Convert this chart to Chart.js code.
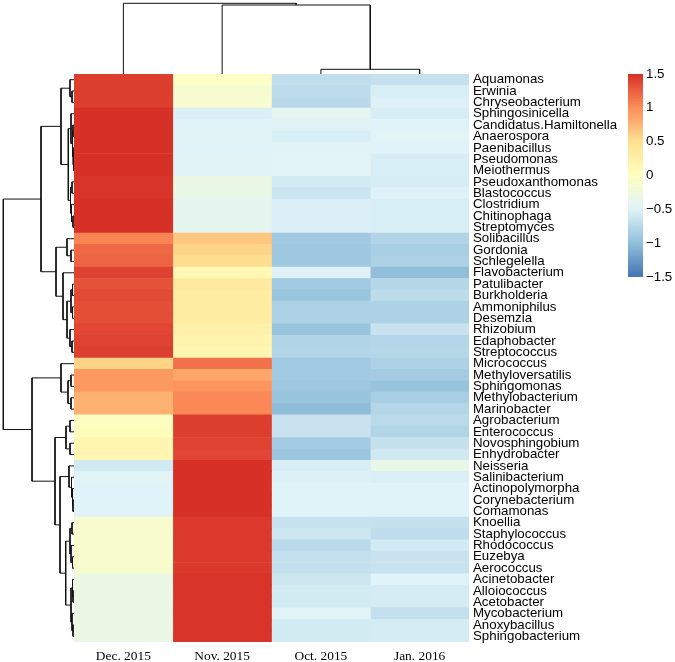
<!DOCTYPE html>
<html>
<head>
<meta charset="utf-8">
<script src="https://cdn.jsdelivr.net/npm/chart.js@4.4.1/dist/chart.umd.min.js"></script>
<style>
  html, body { margin: 0; padding: 0; background: #fff; }
  #wrap { position: relative; width: 675px; height: 662px; overflow: hidden; }
  canvas { position: absolute; display: block; }
</style>
</head>
<body>
<div id="wrap">
  <canvas id="heat" width="601" height="588" style="left:74px;top:74px"></canvas>
  <canvas id="topTree" width="395" height="74" style="left:74px;top:0px"></canvas>
  <canvas id="leftTree" width="74" height="568" style="left:0px;top:74px"></canvas>
  <canvas id="key" width="55" height="223" style="left:620px;top:64px"></canvas>
</div>
<script>
// columns and rows of the heatmap (row-scaled z values)
const samples = ["Dec. 2015", "Nov. 2015", "Oct. 2015", "Jan. 2016"];

const genera = [
  "Aquamonas", "Erwinia", "Chryseobacterium", "Sphingosinicella", "Candidatus.Hamiltonella",
  "Anaerospora", "Paenibacillus", "Pseudomonas", "Meiothermus", "Pseudoxanthomonas",
  "Blastococcus", "Clostridium", "Chitinophaga", "Streptomyces", "Solibacillus",
  "Gordonia", "Schlegelella", "Flavobacterium", "Patulibacter", "Burkholderia",
  "Ammoniphilus", "Desemzia", "Rhizobium", "Edaphobacter", "Streptococcus",
  "Micrococcus", "Methyloversatilis", "Sphingomonas", "Methylobacterium", "Marinobacter",
  "Agrobacterium", "Enterococcus", "Novosphingobium", "Enhydrobacter", "Neisseria",
  "Salinibacterium", "Actinopolymorpha", "Corynebacterium", "Comamonas", "Knoellia",
  "Staphylococcus", "Rhodococcus", "Euzebya", "Aerococcus", "Acinetobacter",
  "Alloiococcus", "Acetobacter", "Mycobacterium", "Anoxybacillus", "Sphingobacterium"
];

const dec2015 = [
  1.42, 1.42, 1.42, 1.50, 1.50, 1.50, 1.50, 1.50, 1.50, 1.48,
  1.48, 1.50, 1.50, 1.50, 1.05, 1.20, 1.22, 1.40, 1.32, 1.36,
  1.34, 1.34, 1.38, 1.40, 1.42, 0.57, 0.93, 0.93, 0.78, 0.78,
  -0.03, 0.03, 0.15, 0.15, -0.60, -0.47, -0.50, -0.50, -0.50, -0.12,
  -0.12, -0.12, -0.12, -0.12, -0.33, -0.33, -0.33, -0.33, -0.33, -0.33
];
const nov2015 = [
  -0.05, -0.15, -0.15, -0.53, -0.50, -0.48, -0.50, -0.48, -0.48, -0.33,
  -0.35, -0.42, -0.42, -0.42, 0.65, 0.57, 0.52, 0.12, 0.35, 0.30,
  0.30, 0.30, 0.22, 0.18, 0.14, 1.15, 0.85, 0.95, 1.02, 1.02,
  1.42, 1.42, 1.40, 1.38, 1.50, 1.50, 1.50, 1.50, 1.50, 1.45,
  1.45, 1.45, 1.45, 1.45, 1.48, 1.48, 1.48, 1.48, 1.48, 1.48
];
const oct2015 = [
  -0.70, -0.72, -0.75, -0.42, -0.48, -0.55, -0.48, -0.47, -0.47, -0.58,
  -0.63, -0.53, -0.53, -0.53, -0.90, -0.92, -0.92, -0.52, -0.90, -0.94,
  -0.82, -0.82, -0.95, -0.80, -0.79, -0.90, -0.90, -0.92, -0.95, -1.02,
  -0.65, -0.65, -0.88, -0.93, -0.55, -0.52, -0.50, -0.50, -0.50, -0.66,
  -0.62, -0.74, -0.68, -0.68, -0.62, -0.58, -0.58, -0.47, -0.58, -0.58
];
const jan2016 = [
  -0.67, -0.55, -0.52, -0.55, -0.50, -0.47, -0.50, -0.55, -0.55, -0.56,
  -0.51, -0.55, -0.55, -0.55, -0.80, -0.85, -0.82, -1.00, -0.77, -0.72,
  -0.82, -0.82, -0.65, -0.78, -0.77, -0.82, -0.88, -0.96, -0.85, -0.78,
  -0.74, -0.80, -0.67, -0.60, -0.35, -0.54, -0.50, -0.50, -0.50, -0.67,
  -0.71, -0.59, -0.65, -0.65, -0.50, -0.57, -0.57, -0.68, -0.57, -0.57
];

// dendrograms: [height, left, right], leaves are row / column indices
const colTree = [70.7, 0, [69.0, 1, [4.7, 2, 3]]];
const rowTree = [70.7,
  [33,
    [13,
      [4, 0, [2, 1, 2]],
      [5.7,
        [3, 3, [1.5, [1, 4, 5], [1, 6, [0.5, 7, 8]]]],
        [3.5, [2, 9, 10], [2.5, 11, [1, 12, 13]]]]],
    [18,
      [7, 14, [3, 15, 16]],
      [11, 17, [7, [3, [1.5, 18, 19], [1.5, 20, 21]], [4, 22, [2, 23, 24]]]]]],
  [42,
    [13, 25, [6, [3, 26, 27], [3, 28, 29]]],
    [19,
      [8, [4, 30, 31], [4, 32, 33]],
      [14,
        [5, 34, [2.5, 35, [1.5, 36, [1, 37, 38]]]],
        [8.3,
          [4, [2, 39, 40], [3, 41, [1.5, 42, 43]]],
          [3, [1.5, 44, [1, 45, 46]], [2, 47, [1, 48, 49]]]]]]]
];

// colour key
const keyTicks = [-1.5, -1, -0.5, 0, 0.5, 1, 1.5];
const palette = ["#4575B4", "#91BFDB", "#E0F3F8", "#FFFFBF", "#FEE090", "#FC8D59", "#D73027"];

function hexRgb(h) {
  return [1, 3, 5].map(i => parseInt(h.slice(i, i + 2), 16));
}

function colorFor(v) {
  const lo = keyTicks[0], hi = keyTicks[keyTicks.length - 1];
  let t = (Math.min(hi, Math.max(lo, v)) - lo) / (hi - lo) * (palette.length - 1);
  const i = Math.min(palette.length - 2, Math.floor(t));
  const f = t - i;
  const a = hexRgb(palette[i]), b = hexRgb(palette[i + 1]);
  const c = a.map((x, k) => Math.round(x + (b[k] - x) * f));
  return `rgb(${c[0]},${c[1]},${c[2]})`;
}

function treeSegments(node, out) {
  if (typeof node === "number") return { pos: node + 0.5, h: 0 };
  const [h, a, b] = node;
  const l = treeSegments(a, out);
  const r = treeSegments(b, out);
  out.push({ h, p1: l.pos, h1: l.h, p2: r.pos, h2: r.h });
  return { pos: (l.pos + r.pos) / 2, h };
}

// scales drawn flush with the chart area (no tick marks, no label overhang)
function flush(sc) {
  sc.paddingTop = 0;
  sc.paddingBottom = 0;
  sc.paddingLeft = 0;
  sc.paddingRight = 0;
}

const noPlugins = { legend: { display: false }, tooltip: { enabled: false } };

function makeTree(canvasId, tree, vertical) {
  const segs = [];
  treeSegments(tree, segs);
  const datasets = segs.map(s => ({
    data: vertical
      ? [{ x: s.p1, y: s.h1 }, { x: s.p1, y: s.h }, { x: s.p2, y: s.h }, { x: s.p2, y: s.h2 }]
      : [{ x: s.h1, y: s.p1 }, { x: s.h, y: s.p1 }, { x: s.h, y: s.p2 }, { x: s.h2, y: s.p2 }],
    showLine: true,
    borderColor: "#111",
    borderWidth: 1,
    pointRadius: 0,
    tension: 0,
    clip: false
  }));
  return new Chart(document.getElementById(canvasId), {
    type: "scatter",
    data: { datasets },
    options: {
      responsive: false,
      animation: false,
      events: [],
      layout: { padding: 0 },
      plugins: noPlugins,
      scales: vertical
        ? {
            x: { type: "linear", min: 0, max: samples.length, display: false },
            y: { type: "linear", min: 0, max: 74, display: false }
          }
        : {
            x: { type: "linear", min: 0, max: 74, reverse: true, display: false },
            y: { type: "linear", min: 0, max: genera.length, reverse: true, display: false }
          }
    }
  });
}

const columns = [dec2015, nov2015, oct2015, jan2016];

new Chart(document.getElementById("heat"), {
  type: "bar",
  data: {
    labels: genera,
    datasets: samples.map((s, j) => ({
      label: s,
      data: genera.map(() => [j, j + 1]),
      backgroundColor: columns[j].map(colorFor),
      borderWidth: 0,
      grouped: false,
      barPercentage: 1,
      categoryPercentage: 1
    }))
  },
  options: {
    indexAxis: "y",
    responsive: false,
    animation: false,
    events: [],
    layout: { padding: 0 },
    plugins: noPlugins,
    scales: {
      x: {
        type: "linear",
        min: 0,
        max: samples.length,
        position: "bottom",
        grid: { display: false, drawTicks: false },
        border: { display: false },
        afterBuildTicks: sc => { sc.ticks = samples.map((_, j) => ({ value: j + 0.5 })); },
        ticks: {
          callback: (v, i) => samples[i],
          autoSkip: false,
          maxRotation: 0,
          padding: 6,
          color: "#000",
          font: { family: "Liberation Serif", size: 13.4 }
        },
        afterFit: sc => { sc.height = 20; flush(sc); }
      },
      y: {
        position: "right",
        grid: { display: false, drawTicks: false },
        border: { display: false },
        ticks: {
          autoSkip: false,
          padding: 4,
          color: "#000",
          font: { family: "Liberation Sans", size: 13.3 }
        },
        afterFit: sc => { sc.width = 206; flush(sc); }
      }
    }
  }
});

makeTree("topTree", colTree, true);
makeTree("leftTree", rowTree, false);

// colour key as thin floating bars
const keySteps = 100;
const keyDatasets = [];
for (let i = 0; i < keySteps; i++) {
  const lo = -1.5 + 3 * i / keySteps, hi = -1.5 + 3 * (i + 1) / keySteps;
  keyDatasets.push({
    data: [[lo, hi]],
    backgroundColor: colorFor((lo + hi) / 2),
    borderWidth: 0,
    grouped: false,
    barPercentage: 1,
    categoryPercentage: 1
  });
}

new Chart(document.getElementById("key"), {
  type: "bar",
  data: { labels: ["key"], datasets: keyDatasets },
  options: {
    responsive: false,
    animation: false,
    events: [],
    layout: { padding: { left: 8, top: 10, bottom: 10, right: 0 } },
    plugins: noPlugins,
    scales: {
      x: { display: false },
      y: {
        type: "linear",
        min: -1.5,
        max: 1.5,
        position: "right",
        grid: { display: false, drawTicks: false },
        border: { display: false },
        afterBuildTicks: sc => { sc.ticks = keyTicks.map(v => ({ value: v })); },
        ticks: {
          padding: 3,
          color: "#000",
          font: { family: "Liberation Sans", size: 13.3 },
          callback: v => (v < 0 ? "\u2212" + Math.abs(v) : String(v))
        },
        afterFit: sc => { sc.width = 32; flush(sc); }
      }
    }
  }
});
</script>
</body>
</html>
